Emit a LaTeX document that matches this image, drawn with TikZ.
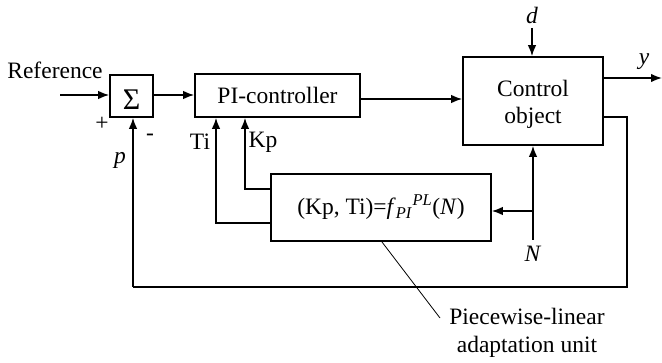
\documentclass[tikz,border=0pt]{standalone}
\usepackage{fontspec}
\setmainfont{Liberation Serif}
\usetikzlibrary{arrows.meta}
\begin{document}
\begin{tikzpicture}[x=1pt,y=-1pt,
  every node/.style={font=\fontsize{23.5}{27}\selectfont, inner sep=0pt},
  blk/.style={draw, line width=1.6pt},
  wire/.style={line width=1.6pt},
  arr/.style={wire, -{Latex[length=11pt,width=8.5pt]}},
]
\useasboundingbox (0,0) rectangle (662,363);
% blocks
\node[blk, minimum width=43pt, minimum height=42pt] (sum) at (131.5,96) {};
\node[font=\fontsize{30}{30}\selectfont] (sig) at (131.5,100) {Σ};
\node[blk, minimum width=165pt, minimum height=43pt] (pi) at (277.5,95.5) {PI-controller};
\node[blk, minimum width=140pt, minimum height=88pt, align=center] (co) at (533,101) {};
\node[align=center] (cot) at (533,104) {Control\\object};
\node[blk, minimum width=220pt, minimum height=67pt] (ad) at (381,207.5) {(Kp, Ti)=\textit{f}\textsubscript{\textit{PI}}\textsuperscript{\textit{PL}}(\textit{N})};
% labels
\node (ref) at (55,70) {Reference};
\node (plus) at (102,124) {+};
\node (minus) at (150,137) {-};
\node (p) at (120,160) {\textit{p}};
\node (ti) at (200,142) {Ti};
\node (kp) at (263,142) {Kp};
\node (d) at (532,15) {\textit{d}};
\node (y) at (644,62) {\textit{y}};
\node (N) at (533,254) {\textit{N}};
\node[align=center] (pw) at (527,333) {Piecewise-linear\\[1pt]adaptation unit};
% coordinates
\coordinate (refin) at (60,95);
\coordinate (dtop) at (532,28);
\coordinate (yend) at (662,78);
\coordinate (nbot) at (533,240);
\coordinate (nbr) at (533,211);
\coordinate (fbR) at (627,117);
\coordinate (fbRB) at (627,287);
\coordinate (fbLB) at (133,287);
\coordinate (lead1) at (382,242);
\coordinate (lead2) at (440,318);
% connectors
\draw[arr] (refin) -- (sum.west |- refin);
\draw[arr] (sum.east |- 0,95) -- (pi.west |- 0,95);
\draw[arr] (pi.east |- 0,99) -- (co.west |- 0,99);
\draw[arr] (dtop) -- (co.north -| dtop);
\draw[arr] (co.east |- yend) -- (yend);
\draw[wire] (co.east |- fbR) -- (fbR) -- (fbRB) -- (fbLB);
\draw[arr] (fbLB) -- (sum.south -| fbLB);
\draw[arr] (nbot) -- (co.south -| nbot);
\draw[arr] (nbr) -- (ad.east |- nbr);
\draw[arr] (ad.west |- 0,189) -- (245,189) -- (pi.south -| 245,0);
\draw[arr] (ad.west |- 0,223) -- (216,223) -- (pi.south -| 216,0);
\draw[line width=0.8pt] (lead1) -- (lead2);
\end{tikzpicture}
\end{document}
